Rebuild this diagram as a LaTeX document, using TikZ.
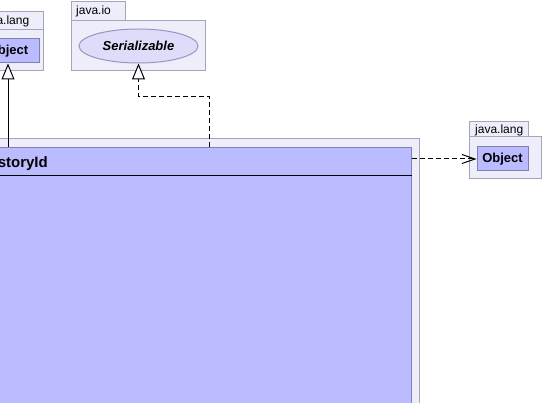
\documentclass[tikz,border=0pt]{standalone}
\usepackage{fontspec}
\setmainfont{Liberation Sans}
\usetikzlibrary{arrows.meta,shapes.geometric}
\definecolor{pkgfill}{RGB}{238,238,250}
\definecolor{pkgline}{RGB}{165,165,185}
\definecolor{clsfill}{RGB}{187,187,255}
\definecolor{clsline}{RGB}{128,128,180}
\definecolor{ellfill}{RGB}{221,221,250}
\definecolor{ellline}{RGB}{150,150,195}

\begin{document}
\begin{tikzpicture}[x=1pt,y=-1pt,
pkgbox/.style={draw=pkgline,fill=pkgfill,line width=1pt,inner sep=0pt},
clsbox/.style={draw=clsline,fill=clsfill,line width=1pt,inner sep=0pt,
  font=\fontsize{13}{15}\selectfont\bfseries},
tablabel/.style={font=\fontsize{12}{14}\selectfont,anchor=base west,inner sep=0pt},
inherit/.style={-{Triangle[open,fill=white,length=16pt,width=13pt]},line width=1pt},
realize/.style={inherit,dash pattern=on 5pt off 3pt},
depend/.style={-{Straight Barb[length=13pt,width=9pt]},line width=1pt,dash pattern=on 5pt off 3pt},
]
\useasboundingbox (0,0) rectangle (544,403);
\clip (0,0) rectangle (544,403);

% packages
\node[pkgbox,minimum width=68pt,minimum height=18pt] (langtabL) at (9,21) {};
\node[pkgbox,minimum width=83pt,minimum height=41pt] (langL) at (1.5,50.5) {};
\node[tablabel] at (-19,25) {java.lang};
\node[pkgbox,minimum width=54pt,minimum height=19pt] (iotab) at (98,11.5) {};
\node[pkgbox,minimum width=134pt,minimum height=50pt] (io) at (138,46) {};
\node[tablabel] at (76,15) {java.io};
\node[pkgbox,minimum width=59pt,minimum height=15pt] (langtabR) at (498.5,129.5) {};
\node[pkgbox,minimum width=72pt,minimum height=42pt] (langR) at (505,158) {};
\node[tablabel] at (475,134) {java.lang};
\node[pkgbox,minimum width=459pt,minimum height=300pt] (own) at (189.5,289) {};

% classes
\node[clsbox,minimum width=62pt,minimum height=24pt] (objL) at (8,51) {Object};
\node[draw=ellline,fill=ellfill,line width=1pt,ellipse,inner sep=0pt,
  minimum width=119pt,minimum height=34pt,
  font=\fontsize{13}{15}\selectfont\bfseries\itshape] (ser) at (138.5,46) {Serializable};
\node[clsbox,minimum width=51pt,minimum height=24pt] (objR) at (502.5,159) {Object};
\node[clsbox,minimum width=441pt,minimum height=282pt] (cls) at (190.5,289) {};
\node[clsbox,draw=none,fill=none,minimum width=441pt,minimum height=27pt] (hdr) at (190.5,161.5) {};
\node[font=\fontsize{15}{17}\selectfont\bfseries,anchor=base east,inner sep=0pt] (clsname) at (48,167.5) {storyId};
\draw[line width=1pt] (hdr.south west) -- (hdr.south east);

% relations
\draw[inherit] (cls.north -| objL) -- (objL.south);
\coordinate (rz) at (209,97);
\draw[realize] (cls.north -| rz) -- (rz) -| (ser.south);
\draw[depend] (cls.east |- objR) -- (objR.west);
\end{tikzpicture}
\end{document}
